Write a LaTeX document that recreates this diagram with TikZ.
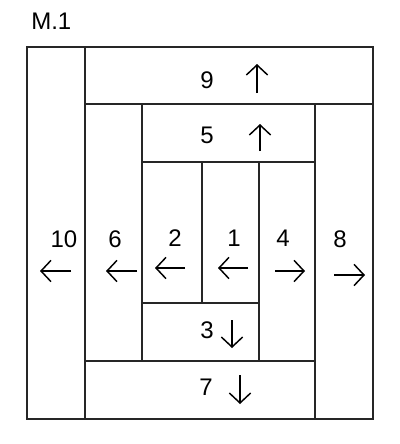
\documentclass[tikz,border=0pt]{standalone}
\usepackage{fontspec}
\setmainfont{Liberation Sans}
\usetikzlibrary{arrows.meta}
\begin{document}
\begin{tikzpicture}[x=0.75pt,y=-0.75pt,
  frame/.style={line width=1.9pt,draw=black!85},
  lab/.style={font=\fontsize{18}{20}\selectfont,inner sep=0pt},
  arr/.style={line width=1.1pt,-{Straight Barb[length=7.5pt,width=16pt,line width=1.1pt]}}]
\useasboundingbox (0,0) rectangle (400,444);
% outer frame and patches
\draw[frame] (27,47) rectangle (373,419);
\draw[frame] (85,47) -- (85,419);
\draw[frame] (85,104) -- (373,104);
\draw[frame] (315,104) -- (315,419);
\draw[frame] (85,361) -- (315,361);
\draw[frame] (142,104) -- (142,361);
\draw[frame] (142,162) -- (315,162);
\draw[frame] (259,162) -- (259,361);
\draw[frame] (142,303) -- (259,303);
\draw[frame] (202,162) -- (202,303);
% title
\node[lab,anchor=west] (title) at (31,21) {M.1};
% labels
\node[lab] (n10) at (64,239) {10};
\node[lab] (n6) at (115,239) {6};
\node[lab] (n2) at (175,238) {2};
\node[lab] (n1) at (234,238) {1};
\node[lab] (n4) at (283,238) {4};
\node[lab] (n8) at (340,239) {8};
\node[lab] (n9) at (207,80) {9};
\node[lab] (n5) at (207,135) {5};
\node[lab] (n3) at (207,330) {3};
\node[lab] (n7) at (206,387) {7};
% arrows
\draw[arr] (71,271) -- (40,271);
\draw[arr] (137,271) -- (106,271);
\draw[arr] (185,268) -- (155,268);
\draw[arr] (248,268) -- (218,268);
\draw[arr] (275,271) -- (305,271);
\draw[arr] (334,275) -- (365,275);
\draw[arr] (257,93) -- (257,64);
\draw[arr] (260,151) -- (260,124);
\draw[arr] (232,320) -- (232,348);
\draw[arr] (240,375) -- (240,404);
\end{tikzpicture}
\end{document}
